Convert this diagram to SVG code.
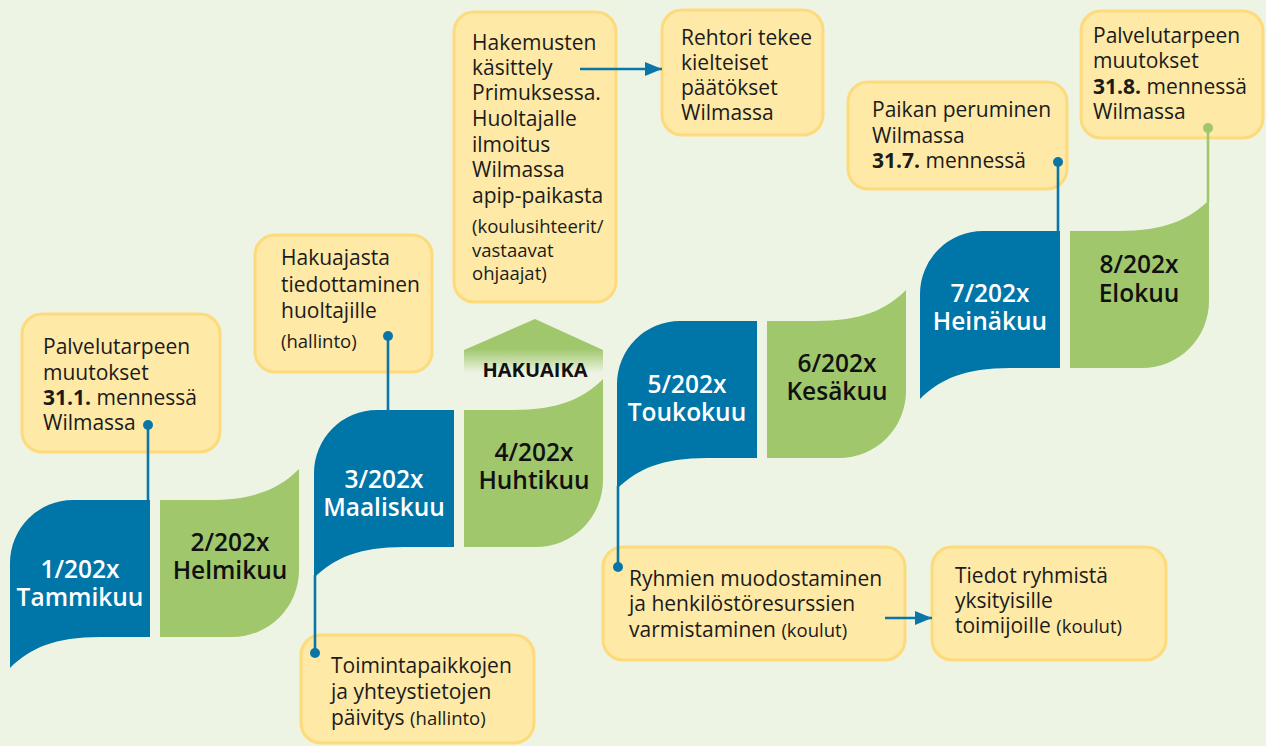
<svg xmlns="http://www.w3.org/2000/svg" xmlns:xlink="http://www.w3.org/1999/xlink" width="1266" height="746" viewBox="0 0 1266 746">
<style>
.box{fill:#fee9a6;stroke:#fddb7c;stroke-width:3}
.t{font-family:"Open Sans","Noto Sans","Liberation Sans",sans-serif;font-size:21px;fill:#1b1b1b}
.s{font-size:18.5px}
.b{font-weight:700}
.mb{font-family:"Open Sans","Noto Sans","Liberation Sans",sans-serif;font-size:24.5px;font-weight:600;fill:#ffffff;text-anchor:middle}
.mg{font-family:"Open Sans","Noto Sans","Liberation Sans",sans-serif;font-size:24.5px;font-weight:600;fill:#111111;text-anchor:middle}
.blue{fill:#0075a8}
.green{fill:#a0c76c}
.cb{stroke:#0a76a8;stroke-width:2.6;fill:none}
.cg{stroke:#a0c76c;stroke-width:2.6;fill:none}
.db{fill:#0a76a8}
.dg{fill:#a0c76c}
</style>
<defs>
<path id="bshape" d="M0,168 C20,148 45,137 90,137 L140,137 L140,0 L63,0 A63,63 0 0 0 0,63 Z"/>
<path id="gshape" d="M0,0 L49,0 C94,0 119,-11 139,-31 L139,70 A67,67 0 0 1 72,137 L0,137 Z"/>
<linearGradient id="hakuGrad" gradientUnits="userSpaceOnUse" x1="0" y1="319" x2="0" y2="385">
<stop offset="0" stop-color="#a0c76c"/>
<stop offset="0.45" stop-color="#a0c76c"/>
<stop offset="0.82" stop-color="#eef4e4"/>
<stop offset="1" stop-color="#eef4e4"/>
</linearGradient>
<marker id="arr" markerUnits="userSpaceOnUse" markerWidth="18" markerHeight="14" refX="17" refY="7" orient="auto">
<path d="M0,0 L17,7 L0,14 Z" fill="#0a76a8"/>
</marker>
</defs>
<rect x="0" y="0" width="1266" height="746" fill="#eef4e4"/>

<g id="hakuaika">
<polygon points="464,410 464,350 535,319 603,350 603,385" fill="url(#hakuGrad)"/>
<text x="535" y="377" class="t b" style="font-size:20px;text-anchor:middle;fill:#111">HAKUAIKA</text>
</g>

<g id="m1">
<use href="#bshape" class="blue" transform="translate(10,500)"/>
<text class="mb" x="80" y="578">1/202x</text>
<text class="mb" x="80" y="606">Tammikuu</text>
</g>
<g id="m2">
<use href="#gshape" class="green" transform="translate(160,500)"/>
<text class="mg" x="230" y="551">2/202x</text>
<text class="mg" x="230" y="579">Helmikuu</text>
</g>
<g id="m3">
<use href="#bshape" class="blue" transform="translate(314,410)"/>
<text class="mb" x="384" y="488">3/202x</text>
<text class="mb" x="384" y="516">Maaliskuu</text>
</g>
<g id="m4">
<use href="#gshape" class="green" transform="translate(464,410)"/>
<text class="mg" x="534" y="461">4/202x</text>
<text class="mg" x="534" y="489">Huhtikuu</text>
</g>
<g id="m5">
<use href="#bshape" class="blue" transform="translate(617,321)"/>
<text class="mb" x="687" y="393">5/202x</text>
<text class="mb" x="687" y="421">Toukokuu</text>
</g>
<g id="m6">
<use href="#gshape" class="green" transform="translate(767,321)"/>
<text class="mg" x="837" y="372">6/202x</text>
<text class="mg" x="837" y="400">Kesäkuu</text>
</g>
<g id="m7">
<use href="#bshape" class="blue" transform="translate(920,231)"/>
<text class="mb" x="990" y="302">7/202x</text>
<text class="mb" x="990" y="330">Heinäkuu</text>
</g>
<g id="m8">
<use href="#gshape" class="green" transform="translate(1070,231)"/>
<text class="mg" x="1139" y="273">8/202x</text>
<text class="mg" x="1139" y="302">Elokuu</text>
</g>

<g id="boxA">
<rect class="box" x="22" y="314" width="198" height="138" rx="20"/>
<text class="t" x="43" y="354">Palvelutarpeen</text>
<text class="t" x="43" y="380">muutokset</text>
<text class="t" x="43" y="405"><tspan class="b">31.1.</tspan> mennessä</text>
<text class="t" x="43" y="430">Wilmassa</text>
</g>
<g id="boxB">
<rect class="box" x="255" y="235" width="177" height="137" rx="20"/>
<text class="t" x="281" y="265">Hakuajasta</text>
<text class="t" x="281" y="292">tiedottaminen</text>
<text class="t" x="281" y="318">huoltajille</text>
<text class="t s" x="281" y="348">(hallinto)</text>
</g>
<g id="boxC">
<rect class="box" x="454" y="12" width="162" height="290" rx="20"/>
<text class="t" x="472" y="50">Hakemusten</text>
<text class="t" x="472" y="75">käsittely</text>
<text class="t" x="472" y="100">Primuksessa.</text>
<text class="t" x="472" y="126">Huoltajalle</text>
<text class="t" x="472" y="152">ilmoitus</text>
<text class="t" x="472" y="177">Wilmassa</text>
<text class="t" x="472" y="203">apip-paikasta</text>
<text class="t s" x="472" y="233">(koulusihteerit/</text>
<text class="t s" x="472" y="257">vastaavat</text>
<text class="t s" x="472" y="280">ohjaajat)</text>
</g>
<g id="boxD">
<rect class="box" x="662" y="10" width="161" height="125" rx="20"/>
<text class="t" x="681" y="45">Rehtori tekee</text>
<text class="t" x="681" y="70">kielteiset</text>
<text class="t" x="681" y="95">päätökset</text>
<text class="t" x="681" y="120">Wilmassa</text>
</g>
<g id="boxE">
<rect class="box" x="848" y="82" width="219" height="107" rx="20"/>
<text class="t" x="872" y="117">Paikan peruminen</text>
<text class="t" x="872" y="143">Wilmassa</text>
<text class="t" x="872" y="168"><tspan class="b">31.7.</tspan> mennessä</text>
</g>
<g id="boxF">
<rect class="box" x="1081" y="11" width="182" height="127" rx="20"/>
<text class="t" x="1093" y="43">Palvelutarpeen</text>
<text class="t" x="1093" y="68">muutokset</text>
<text class="t" x="1093" y="94"><tspan class="b">31.8.</tspan> mennessä</text>
<text class="t" x="1093" y="119">Wilmassa</text>
</g>
<g id="boxG">
<rect class="box" x="301" y="635" width="233" height="108" rx="20"/>
<text class="t" x="331" y="673">Toimintapaikkojen</text>
<text class="t" x="331" y="699">ja yhteystietojen</text>
<text class="t" x="331" y="725">päivitys <tspan class="s">(hallinto)</tspan></text>
</g>
<g id="boxH">
<rect class="box" x="603" y="547" width="302" height="113" rx="20"/>
<text class="t" x="629" y="586">Ryhmien muodostaminen</text>
<text class="t" x="629" y="611">ja henkilöstöresurssien</text>
<text class="t" x="629" y="637">varmistaminen <tspan class="s">(koulut)</tspan></text>
</g>
<g id="boxI">
<rect class="box" x="932" y="547" width="234" height="113" rx="20"/>
<text class="t" x="955" y="583">Tiedot ryhmistä</text>
<text class="t" x="955" y="608">yksityisille</text>
<text class="t" x="955" y="633">toimijoille <tspan class="s">(koulut)</tspan></text>
</g>

<g id="connectors">
<line class="cb" x1="148" y1="425" x2="148" y2="501"/>
<circle class="db" cx="148" cy="425" r="5"/>
<line class="cb" x1="388" y1="336" x2="388" y2="411"/>
<circle class="db" cx="388" cy="336" r="5"/>
<line class="cb" x1="1058" y1="162" x2="1058" y2="232"/>
<circle class="db" cx="1058" cy="162" r="5"/>
<line class="cg" x1="1208" y1="128" x2="1208" y2="202"/>
<circle class="dg" cx="1208" cy="128" r="5"/>
<line class="cb" x1="315" y1="575" x2="315" y2="653"/>
<circle class="db" cx="315" cy="653" r="5"/>
<line class="cb" x1="618" y1="486" x2="618" y2="567"/>
<circle class="db" cx="618" cy="567" r="5"/>
<line class="cb" x1="580" y1="69" x2="662" y2="69" marker-end="url(#arr)"/>
<line class="cb" x1="885" y1="618" x2="932" y2="618" marker-end="url(#arr)"/>
</g>
</svg>
